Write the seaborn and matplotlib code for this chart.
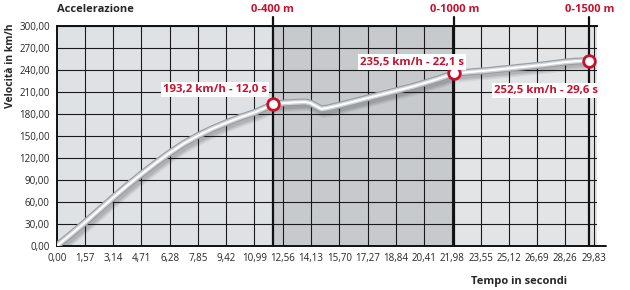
import numpy as np
import pandas as pd
import matplotlib
matplotlib.use("Agg")
import matplotlib.pyplot as plt
import matplotlib.patheffects as pe
import seaborn as sns

# ---- data ----
time_s = [0, 0.8, 1.57, 2.4, 3.14, 3.9, 4.71, 5.5, 6.28, 7.05, 7.85, 8.6, 9.42,
          10.2, 10.99, 11.5, 12.0, 12.6, 13.3, 13.8, 14.1, 14.4, 14.7, 15.0,
          15.7, 16.5, 17.3, 18.1, 18.9, 19.7, 20.4, 21.2, 22.1, 23.0, 23.8,
          24.6, 25.4, 26.2, 27.0, 27.8, 28.3, 28.8, 29.2, 29.6]
speed_kmh = [0, 16, 32, 50, 66, 82, 98, 113, 127, 139.5, 150.5, 159.5, 168,
             175.5, 182, 187.5, 193.2, 195, 196, 196.5, 195, 191, 187, 188,
             192, 197, 202, 207, 212, 217, 222, 228, 235.5, 237.5, 239,
             241, 243, 245, 247, 249.5, 251, 252, 252.5, 252.5]
milestone_names = ["0-400 m", "0-1000 m", "0-1500 m"]
milestone_time = [12.0, 22.1, 29.6]
milestone_speed = [193.2, 235.5, 252.5]
milestone_labels = ["193,2 km/h - 12,0 s", "235,5 km/h - 22,1 s", "252,5 km/h - 29,6 s"]
x_ticks = [round(1.57 * i, 2) for i in range(20)]
y_ticks = list(range(0, 301, 30))

RED = "#c8102e"

sns.set_style("white")
plt.rcParams['font.family'] = ['Open Sans', 'DejaVu Sans']

fig = plt.figure(figsize=(6.3, 2.9), dpi=100)
ax = fig.add_axes([0.09, 0.152, 0.857, 0.758])

# background regions
ax.axvspan(0, 12.0, color="#dfe2e4", zorder=0.5, lw=0)
ax.axvspan(12.0, 22.1, color="#c6cacd", zorder=0.5, lw=0)
ax.axvspan(22.1, 30.0, color="#e2e4e6", zorder=0.5, lw=0)
ax.set_xlim(0, 30.0)
ax.set_ylim(0, 300)

# grid
for xt in x_ticks[1:]:
    ax.axvline(xt, color="#1a1a1a", lw=0.8, zorder=1.5)
for yt in y_ticks[1:]:
    ax.axhline(yt, color="#1a1a1a", lw=0.8, zorder=1.5)

# milestone lines
for mt in milestone_time:
    ax.axvline(mt, ymin=0, ymax=1.04, color="#111111", lw=1.6, zorder=1.8, clip_on=False)

# curve (tube with soft shadow)
df = pd.DataFrame({"t": time_s, "v": speed_kmh})
shadow = [pe.SimpleLineShadow(offset=(1.5, -2.5), shadow_color="#202020", alpha=a, linewidth=w)
          for a, w in [(0.07, 8), (0.09, 6), (0.11, 4)]]
sns.lineplot(data=df, x="t", y="v", ax=ax, color="#cfd3d6", lw=3.4, zorder=3,
             path_effects=shadow + [pe.Stroke(linewidth=5.0, foreground="#979ca1"), pe.Normal()])
sns.lineplot(data=df, x="t", y="v", ax=ax, color="white", lw=1.4, zorder=3.1)

# markers
mdf = pd.DataFrame({"t": milestone_time, "v": milestone_speed})
sns.scatterplot(data=mdf, x="t", y="v", ax=ax, s=70, color="white",
                edgecolor=RED, linewidth=2, zorder=4, clip_on=False)

# labels
label_pos = [(8.8, 214), (19.75, 251), (27.2, 211.5)]
for (lx, ly), txt in zip(label_pos, milestone_labels):
    ax.text(lx, ly, txt, color=RED, fontsize=8.2, fontweight="bold", ha="center", va="center",
            zorder=5, bbox=dict(facecolor="white", edgecolor="none", pad=1.5))
for mt, name in zip(milestone_time, milestone_names):
    ax.text(mt, 1.075, name, transform=ax.get_xaxis_transform(), color=RED, fontsize=8,
            fontweight="bold", ha="center", va="center")
ax.text(0.0, 1.075, "Accelerazione", transform=ax.transAxes, fontsize=8,
        fontweight="bold", ha="left", va="center")

# spines
ax.spines["right"].set_visible(False)
for s in ["left", "bottom", "top"]:
    ax.spines[s].set_color("#111111")
    ax.spines[s].set_linewidth(1.4)
    ax.spines[s].set_zorder(2)
ax.plot([30.0, 30.5], [0, 0], color="#111111", lw=1.4, clip_on=False)

ax.set_xticks(x_ticks)
ax.set_xticklabels([f"{v:.2f}".replace(".", ",") for v in x_ticks], fontsize=7)
ax.set_yticks(y_ticks)
ax.set_yticklabels([f"{v:.2f}".replace(".", ",") for v in y_ticks], fontsize=7)
ax.tick_params(length=0, pad=5)
ax.set_xlabel("")
ax.set_ylabel("")
fig.text(0.017, 0.92, "Velocità in km/h", rotation=90, fontsize=7.5, fontweight="bold",
         ha="center", va="top")
fig.text(0.9, 0.03, "Tempo in secondi", fontsize=8, fontweight="bold", ha="right", va="center")

fig.savefig("out.png", dpi=100, facecolor="white")
